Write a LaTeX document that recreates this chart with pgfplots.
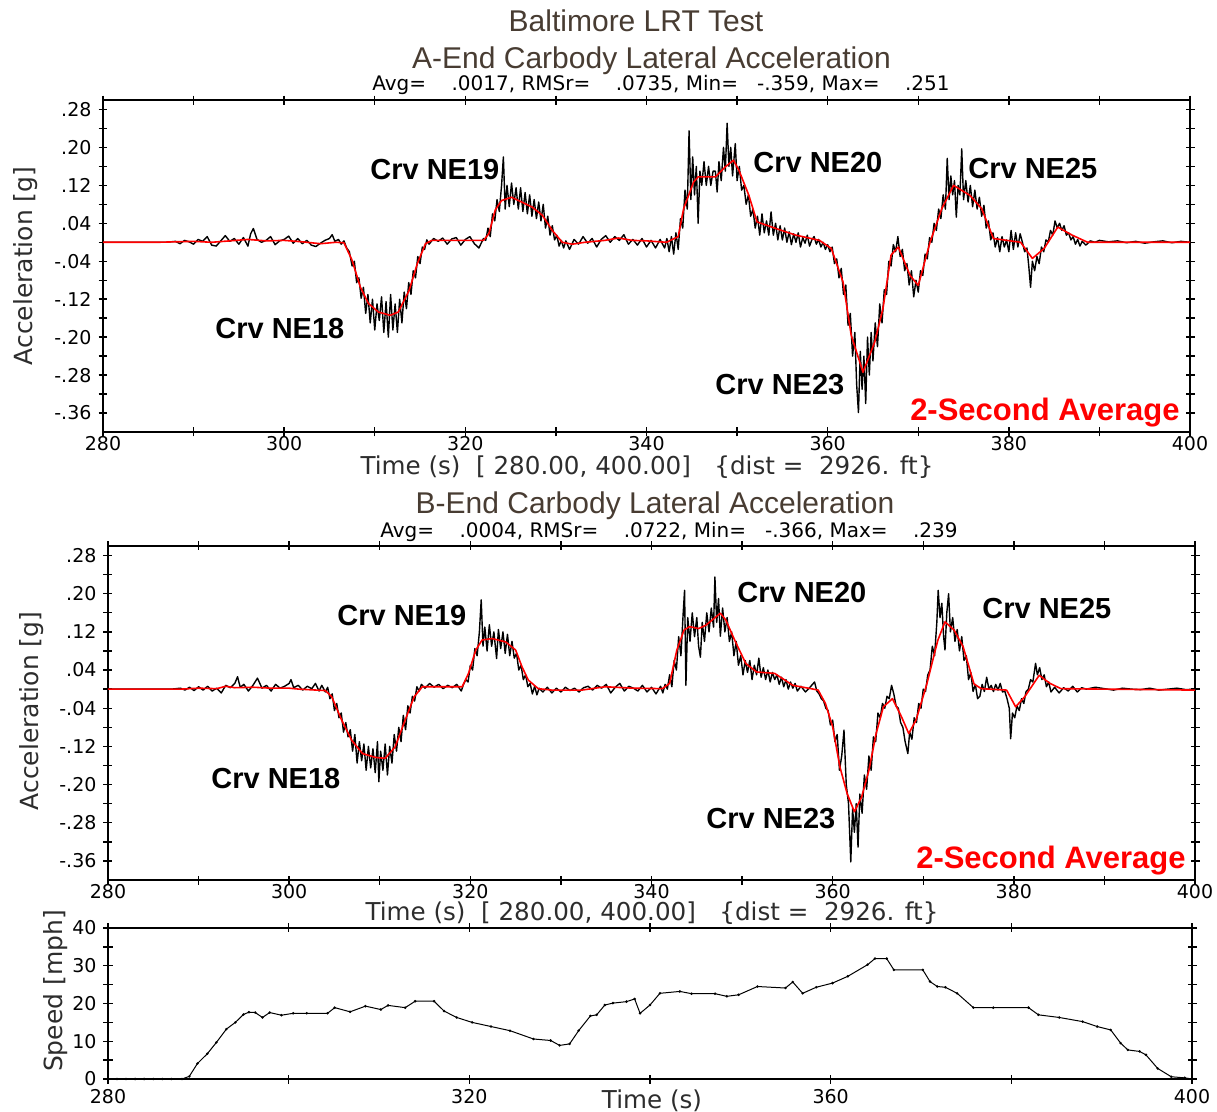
\documentclass[border=0pt]{standalone}
\usepackage{pgfplots}
\pgfplotsset{compat=1.18}
\usepackage{fontspec}
\setmainfont{Liberation Sans}
\newfontfamily\dejavu{DejaVu Sans}
\definecolor{titlecol}{RGB}{72,60,50}
\definecolor{labcol}{RGB}{45,45,45}
\begin{document}
\begin{tikzpicture}
\useasboundingbox (0,0) rectangle (608.5pt,-556pt);
\pgfplotsset{
 common/.style={
  scale only axis, anchor=south west,
  xmin=280,xmax=400,
  tick align=center, major tick length=4.5pt, minor tick length=4.5pt,
  tick style={black,line width=0.7pt},
  axis line style={line width=0.9pt},
  ticklabel style={font=\dejavu\fontsize{9.5}{10}\selectfont, text=black},
  xticklabel style={yshift=3.4pt},
  /pgf/number format/assume math mode=true,
 },
 accstyle/.style={
  common, width=543.5pt, height=166pt,
  ymin=-0.4,ymax=0.3,
  xtick={280,300,320,340,360,380,400},
  xticklabels={280,300,320,340,360,380,400},
  minor xtick={290,310,330,350,370,390},
  ytick={-0.36,-0.28,-0.20,-0.12,-0.04,0.04,0.12,0.20,0.28},
  yticklabels={-.36,-.28,-.20,-.12,-.04,.04,.12,.20,.28},
  minor ytick={-0.32,-0.24,-0.16,-0.08,0,0.08,0.16,0.24},
 },
 raw/.style={black, line width=0.7pt, line join=round},
 avg/.style={red, line width=0.8pt, line join=round},
}
% ---------------- Panel A ----------------
\begin{axis}[accstyle, at={(51.5pt,-216pt)}]
\addplot[raw] coordinates {
(280,0) (287,0) (288,0.002) (288.5,-0.003) (289,0.004) (289.5,0.001) (290,-0.004) (290.5,0.006) (291,0.002) (291.5,0.012) (292,-0.006) (292.5,-0.008) (293,0.003) (293.5,0.014) (294,0.002) (294.5,0.008) (295,-0.004) (295.5,0.010) (296,-0.008) (296.3,0.018) (296.6,0.029) (297,0.006) (297.5,0.000) (298,0.004) (298.5,0.012) (299,-0.005) (299.5,0.003) (300,0.006) (300.5,0.013) (301,-0.002) (301.5,0.008) (302,-0.003) (302.5,0.004) (303,-0.006) (303.5,-0.009) (304,-0.002) (304.5,0.004) (305,0.008) (305.3,0.016) (305.6,0.002) (306,0.006) (306.3,-0.004) (306.6,0.003) (306.9,-0.012) (307.2,-0.02)
(307.5,-0.05) (307.75,-0.04) (308,-0.085) (308.25,-0.075) (308.5,-0.118) (308.75,-0.095) (309,-0.15) (309.25,-0.11) (309.5,-0.17) (309.75,-0.12) (310,-0.185) (310.25,-0.13) (310.5,-0.165) (310.75,-0.115) (311,-0.19) (311.25,-0.125) (311.5,-0.2) (311.75,-0.11) (312,-0.185) (312.25,-0.13) (312.5,-0.19) (312.75,-0.12) (313,-0.17) (313.25,-0.105) (313.5,-0.14) (313.75,-0.085) (314,-0.11) (314.25,-0.06) (314.5,-0.075) (314.75,-0.03) (315,-0.045) (315.25,-0.01) (315.5,-0.015) (315.75,0.005) (316,-0.004)
(316.5,0.008) (317,0.002) (317.5,0.009) (318,-0.004) (318.5,0.007) (319,0.010) (319.5,-0.006) (320,0.006) (320.5,0.012) (321,-0.003) (321.5,-0.012) (322,0.008)
(322.25,0.004) (322.5,0.03) (322.75,0.012) (323,0.06) (323.25,0.045) (323.5,0.09) (323.75,0.065) (324,0.12) (324.2,0.18) (324.4,0.07) (324.6,0.12) (324.85,0.075) (325.1,0.125) (325.35,0.08) (325.6,0.115) (325.85,0.07) (326.1,0.115) (326.35,0.065) (326.6,0.105) (326.85,0.06) (327.1,0.1) (327.35,0.055) (327.6,0.09) (327.85,0.05) (328.1,0.085) (328.35,0.045) (328.6,0.08) (328.85,0.03) (329.1,0.055) (329.35,0.015) (329.6,0.035) (329.85,0.005) (330.1,0.015) (330.35,-0.008) (330.6,0.004) (330.85,-0.012) (331.1,0.003) (331.5,-0.015) (332,0.006) (332.5,-0.004) (333,0.012) (333.5,-0.002) (334,0.008) (334.5,-0.01) (335,0.006) (335.5,0.014) (336,0.000) (336.5,0.012) (337,0.004) (337.5,0.016) (338,-0.004) (338.5,0.006) (339,-0.006) (339.5,0.008) (340,-0.01) (340.5,0.004) (341,-0.012) (341.5,0.006)
(342,-0.012) (342.25,0.008) (342.5,-0.02) (342.75,0.012) (343,-0.025) (343.25,0.02) (343.5,-0.015) (343.75,0.05) (344,0.03) (344.25,0.11) (344.5,0.07) (344.7,0.235) (344.9,0.09) (345.1,0.18) (345.3,0.1) (345.5,0.16) (345.7,0.04) (345.9,0.15) (346.1,0.12) (346.35,0.17) (346.6,0.12) (346.85,0.16) (347.1,0.12) (347.35,0.15) (347.6,0.15) (347.8,0.106) (348,0.17) (348.25,0.13) (348.5,0.2) (348.7,0.15) (348.9,0.251) (349.1,0.16) (349.3,0.2) (349.5,0.14) (349.8,0.208) (350,0.13) (350.25,0.16) (350.5,0.11) (350.75,0.12) (351,0.08) (351.25,0.1) (351.5,0.055) (351.75,0.07) (352,0.03) (352.25,0.055) (352.5,0.015) (352.75,0.06) (353,0.02) (353.25,0.045) (353.5,0.015) (353.75,0.064) (354,0.015) (354.25,0.04) (354.5,0.005) (354.75,0.035) (355,0.005) (355.25,0.03) (355.5,0.0) (355.75,0.022) (356,-0.005) (356.25,0.018) (356.5,0.0) (356.75,0.02) (357,-0.01) (357.25,0.01) (357.5,-0.002) (357.75,0.015) (358,-0.008) (358.25,0.005) (358.5,0.012) (358.75,-0.004) (359,0.006) (359.25,-0.01) (359.5,0.0) (359.75,-0.015)
(360,-0.005) (360.25,-0.02) (360.5,-0.01) (360.75,-0.045) (361,-0.035) (361.25,-0.075) (361.5,-0.055) (361.75,-0.11) (362,-0.09) (362.25,-0.175) (362.5,-0.15) (362.75,-0.24) (363,-0.19) (363.2,-0.3) (363.4,-0.359) (363.6,-0.23) (363.8,-0.31) (364,-0.24) (364.2,-0.34) (364.4,-0.2) (364.6,-0.28) (364.8,-0.19) (365,-0.25) (365.25,-0.17) (365.5,-0.22) (365.75,-0.13) (366,-0.17)
(366.25,-0.1) (366.5,-0.11) (366.75,-0.04) (367,-0.05) (367.25,-0.005) (367.5,-0.02) (367.75,0.012) (368,-0.03) (368.25,-0.015) (368.5,-0.06) (368.75,-0.045) (369,-0.09) (369.25,-0.06) (369.5,-0.115) (369.75,-0.08) (370,-0.105) (370.25,-0.06) (370.5,-0.07) (370.75,-0.025) (371,-0.035) (371.25,0.01) (371.5,0.0) (371.75,0.04) (372,0.025) (372.25,0.07) (372.5,0.05) (372.75,0.1) (373,0.07) (373.2,0.177) (373.4,0.09) (373.6,0.14) (373.8,0.1) (374,0.13) (374.2,0.053) (374.4,0.12) (374.6,0.1) (374.8,0.197) (375,0.09) (375.25,0.13) (375.5,0.085) (375.75,0.12) (376,0.075) (376.25,0.11) (376.5,0.07) (376.75,0.095) (377,0.055) (377.25,0.078) (377.5,0.03) (377.75,0.045) (378,0.005) (378.25,0.02) (378.5,-0.01)
(378.75,0.01) (379,-0.02) (379.25,0.012) (379.5,-0.01) (379.75,0.005) (380,-0.02) (380.25,0.025) (380.5,-0.015) (380.75,0.02) (381,-0.01) (381.25,0.018) (381.5,0.0) (381.75,-0.02) (382,-0.012) (382.2,-0.05) (382.4,-0.095) (382.6,-0.04) (382.85,-0.06) (383.1,-0.03) (383.35,-0.045) (383.6,-0.01) (383.85,-0.02) (384.1,0.005) (384.35,0.0) (384.6,0.025) (384.85,0.015) (385.1,0.045) (385.35,0.03) (385.6,0.04) (385.85,0.025) (386.1,0.035) (386.35,0.015) (386.6,0.02) (386.85,0.005) (387.1,0.012) (387.35,-0.004) (387.6,0.006) (387.85,-0.008) (388.1,0.002) (388.5,-0.006) (389,0.003) (389.5,0.0) (390,0.004) (391,0.001) (392,0.003) (393,-0.001) (394,0.002) (395,-0.002) (396,0.001) (397,0.003) (398,-0.001) (399,0.002) (400,0)
};
\addplot[avg] coordinates {
(280,0) (286,0) (288,0.001) (290,0.002) (292,0.000) (294,0.003) (296,0.006) (298,0.003) (300,0.004) (302,0.001) (304,-0.003) (305.7,0.000) (306.6,-0.001) (307.5,-0.038) (308.4,-0.094) (309.3,-0.129) (310.4,-0.147) (311.7,-0.154) (312.6,-0.147) (313.8,-0.101) (314.7,-0.045) (315.6,-0.003) (316.3,0.004) (322.0,0.004) (322.6,0.018) (323.3,0.068) (324.0,0.088) (325.1,0.095) (326.2,0.085) (327.4,0.074) (328.5,0.057) (329.6,0.025) (330.7,0.000) (331.8,-0.004) (333.2,0.000) (335.4,0.004) (336.9,0.009) (338.4,0.004) (340,0.003) (342.2,0.000) (343.5,0.012) (344.1,0.071) (345.2,0.127) (345.7,0.138) (347.6,0.138) (348.7,0.159) (349.6,0.173) (350.2,0.152) (351.3,0.099) (352.2,0.043) (354.3,0.029) (356.5,0.015) (359.1,0.004) (360.4,-0.013) (361.7,-0.084) (362.6,-0.196) (363.9,-0.274) (365.2,-0.210) (366.1,-0.140) (367.0,-0.027) (367.8,-0.010) (369.1,-0.070) (370.0,-0.091) (371.3,0.000) (372.6,0.071) (373.9,0.120) (375.7,0.099) (377.0,0.071) (378.3,0.008) (381.3,0.000) (382.6,-0.034) (383.9,-0.013) (385.4,0.032) (387.0,0.015) (388.7,0.000) (400,0.000)
};
\end{axis}
% ---------------- Panel B ----------------
\begin{axis}[accstyle, at={(54pt,-440pt)}, height=167pt]
\addplot[raw] coordinates {
(280,0) (287,0) (288,0.002) (288.5,-0.002) (289,0.004) (289.5,-0.003) (290,0.005) (290.5,-0.002) (291,0.006) (291.5,-0.004) (292,0.002) (292.5,-0.008) (293,0.008) (293.5,0.003) (294,0.012) (294.3,0.026) (294.6,0.004) (295,0.010) (295.5,-0.004) (296,0.008) (296.5,0.023) (297,0.002) (297.5,0.008) (298,-0.004) (298.5,0.010) (299,0.002) (299.5,0.006) (300,0.012) (300.2,0.02) (300.5,0.003) (301,0.008) (301.5,-0.002) (302,0.006) (302.5,0.001) (302.9,0.012) (303.3,-0.004) (303.6,0.008) (304,-0.006) (304.25,0.004) (304.5,-0.02) (304.75,-0.01)
(305,-0.045) (305.25,-0.03) (305.5,-0.06) (305.75,-0.05) (306,-0.09) (306.25,-0.07) (306.5,-0.1) (306.75,-0.085) (307,-0.13) (307.25,-0.095) (307.5,-0.155) (307.75,-0.11) (308,-0.15) (308.25,-0.115) (308.5,-0.17) (308.75,-0.12) (309,-0.165) (309.25,-0.125) (309.5,-0.175) (309.75,-0.11) (309.9,-0.194) (310.1,-0.13) (310.35,-0.17) (310.6,-0.115) (310.85,-0.18) (311.1,-0.12) (311.35,-0.155) (311.6,-0.095) (311.85,-0.13) (312.1,-0.08) (312.35,-0.11) (312.6,-0.055) (312.85,-0.085) (313.1,-0.035) (313.35,-0.05) (313.6,-0.015) (313.85,-0.025) (314.1,0.005) (314.35,-0.004) (314.6,0.01)
(315,0.002) (315.5,0.012) (316,0.004) (316.5,0.01) (317,0.001) (317.5,0.008) (318,0.003) (318.5,0.01) (319,-0.004) (319.25,0.01) (319.5,0.02) (319.75,0.015) (320,0.05) (320.25,0.04) (320.5,0.085) (320.75,0.07) (321,0.12) (321.2,0.187) (321.4,0.09) (321.6,0.13) (321.85,0.08) (322.1,0.135) (322.35,0.09) (322.6,0.12) (322.9,0.064) (323.1,0.125) (323.35,0.085) (323.6,0.12) (323.85,0.075) (324.1,0.115) (324.35,0.07) (324.6,0.1) (324.85,0.065) (325.1,0.075) (325.35,0.04) (325.6,0.05) (325.85,0.02) (326.1,0.03) (326.35,0.005) (326.6,0.012) (326.85,-0.01) (327.1,0.006) (327.35,-0.012) (327.6,0.002)
(328,-0.006) (328.5,0.004) (329,-0.008) (329.5,0.002) (330,-0.006) (330.5,0.004) (331,-0.003) (331.5,0.002) (332,-0.006) (332.5,0.003) (333,0.006) (333.5,-0.002) (334,0.008) (334.5,0.002) (335,0.010) (335.5,-0.008) (336,0.004) (336.5,0.012) (337,-0.004) (337.5,0.006) (338,0.002) (338.5,-0.004) (339,0.008) (339.5,-0.006) (340,0.004) (340.5,-0.01) (341,0.006) (341.25,-0.008) (341.5,0.01) (341.75,0.0)
(342,0.03) (342.25,0.005) (342.5,0.06) (342.75,0.04) (343,0.11) (343.25,0.07) (343.5,0.16) (343.65,0.207) (343.8,0.008) (344,0.15) (344.25,0.1) (344.5,0.16) (344.75,0.11) (345,0.15) (345.2,0.09) (345.4,0.067) (345.6,0.14) (345.85,0.1) (346.1,0.16) (346.35,0.12) (346.6,0.17) (346.85,0.13) (347,0.235) (347.2,0.14) (347.4,0.19) (347.6,0.111) (347.85,0.17) (348.1,0.12) (348.35,0.15) (348.6,0.1) (348.85,0.12) (349.1,0.07) (349.35,0.1) (349.6,0.05) (349.85,0.07) (350.1,0.03) (350.35,0.06) (350.6,0.035) (350.85,0.06) (351.1,0.02) (351.35,0.05) (351.6,0.03) (351.85,0.065) (352.1,0.025) (352.35,0.045) (352.6,0.02) (352.85,0.04) (353.1,0.015) (353.35,0.035) (353.6,0.02) (353.85,0.03) (354.1,0.01) (354.35,0.025) (354.6,0.005) (354.85,0.02) (355.1,0.0) (355.35,0.015) (355.6,0.002) (355.85,0.012) (356.1,-0.004) (356.5,0.006) (357,-0.006) (357.5,0.004) (358,0.015) (358.25,-0.004) (358.5,-0.01) (358.75,-0.02)
(359,-0.025) (359.25,-0.04) (359.5,-0.045) (359.75,-0.075) (360,-0.065) (360.25,-0.11) (360.5,-0.095) (360.75,-0.17) (361,-0.14) (361.25,-0.086) (361.5,-0.2) (361.75,-0.24) (362,-0.362) (362.2,-0.25) (362.4,-0.3) (362.6,-0.24) (362.8,-0.331) (363,-0.22) (363.25,-0.26) (363.5,-0.18) (363.75,-0.21) (364,-0.14) (364.25,-0.17) (364.5,-0.1) (364.75,-0.11) (365,-0.05) (365.25,-0.06) (365.5,-0.03) (365.75,-0.04) (366,-0.015) (366.25,-0.02) (366.5,0.008) (366.75,-0.01)
(367,-0.035) (367.25,-0.04) (367.5,-0.07) (367.75,-0.08) (368,-0.11) (368.3,-0.135) (368.5,-0.09) (368.75,-0.105) (369,-0.06) (369.25,-0.07) (369.5,-0.03) (369.75,-0.04) (370,0.0) (370.25,-0.005) (370.5,0.03) (370.75,0.04) (371,0.09) (371.25,0.07) (371.5,0.14) (371.65,0.207) (371.85,0.15) (372.05,0.18) (372.25,0.11) (372.4,0.082) (372.6,0.16) (372.8,0.2) (373,0.12) (373.25,0.15) (373.5,0.1) (373.75,0.125) (374,0.08) (374.25,0.11) (374.5,0.06) (374.75,0.07) (375,0.02) (375.25,0.035) (375.5,-0.005) (375.75,0.01) (376,-0.02) (376.25,-0.015) (376.5,0.01) (376.75,-0.005) (377,0.025) (377.25,0.0) (377.5,0.008) (377.75,-0.005) (378,0.01) (378.25,-0.002) (378.5,0.012) (378.75,-0.006)
(379,-0.004) (379.25,-0.02) (379.5,-0.04) (379.65,-0.104) (379.85,-0.05) (380.1,-0.06) (380.35,-0.035) (380.6,-0.045) (380.85,-0.02) (381.1,-0.03) (381.35,-0.005) (381.6,0.0) (381.85,0.02) (382.1,0.015) (382.4,0.054) (382.6,0.03) (382.85,0.045) (383.1,0.02) (383.35,0.03) (383.6,0.005) (383.85,0.015) (384.1,-0.006) (384.5,0.004) (385,-0.008) (385.5,0.003) (386,-0.004) (386.5,0.006) (387,-0.006) (387.5,0.003) (388,0.000) (389,0.004) (390,0.001) (391,-0.002) (392,0.002) (393,0.000) (394,-0.001) (395,0.002) (396,-0.002) (397,0.000) (398,0.002) (399,-0.001) (400,0.000)
};
\addplot[avg] coordinates {
(280,0) (288,0) (290,0.002) (292,0.001) (293,0.006) (294,0.003) (296,0.004) (298,0.002) (300,0.002) (301.1,0.000) (304,-0.003) (304.7,-0.016) (305.8,-0.065) (306.9,-0.107) (308.1,-0.135) (309.5,-0.143) (310.6,-0.145) (311.7,-0.121) (312.8,-0.065) (313.8,-0.016) (314.7,0.005) (319.1,0.005) (319.8,0.033) (320.6,0.082) (321.3,0.103) (322.4,0.106) (323.9,0.099) (325.0,0.082) (325.7,0.047) (326.4,0.019) (327.5,0.001) (329,-0.002) (332.3,-0.002) (334.9,0.005) (338,0.002) (341.2,0.001) (342.0,0.012) (342.8,0.082) (343.6,0.124) (344.2,0.131) (345.2,0.127) (346.0,0.134) (347.6,0.159) (348.2,0.145) (349.2,0.102) (350.4,0.054) (351.6,0.036) (353.6,0.033) (355.6,0.008) (357.6,0.001) (358.4,-0.002) (359.2,-0.030) (360.0,-0.079) (360.8,-0.163) (361.6,-0.219) (362.4,-0.257) (363.2,-0.226) (364.0,-0.170) (364.8,-0.093) (365.6,-0.037) (366.6,-0.020) (367.6,-0.058) (368.4,-0.093) (369.2,-0.065) (370.4,0.011) (371.6,0.102) (372.4,0.141) (373.4,0.124) (374.4,0.089) (375.6,0.011) (376.4,0.001) (379.2,-0.002) (380.2,-0.037) (381.2,-0.016) (382.8,0.029) (384.0,0.012) (385.2,0.001) (400,-0.002)
};
\end{axis}
% ---------------- Speed ----------------
\begin{axis}[common, at={(54pt,-539.5pt)}, width=542pt, height=75.5pt,
  xticklabel style={yshift=-3.4pt, yshift=0.6pt},
  ymin=0, ymax=40,
  xtick={280,300,320,340,360,380,400}, xticklabels={280,,320,,360,,400},
  ytick={0,10,20,30,40}, yticklabels={0,10,20,30,40},
  minor ytick={5,15,25,35}]
\addplot[black, line width=0.5pt, mark=*, mark size=0.35pt] coordinates {
(280,0) (281,0) (282,0) (283,0) (284,0) (285,0) (286,0) (287,0) (288.2,0) (289,0.7) (289.9,4.1) (291,6.7) (292,9.7) (293.1,13.2) (294.1,15) (295,17.1) (295.6,17.7) (296.3,17.6) (297.1,16.3) (297.9,17.6) (299.2,16.9) (300.5,17.4) (302,17.4) (304.3,17.4) (305.1,18.9) (306.8,17.8) (308.5,19.3) (310.2,18.4) (311,19.5) (312.9,18.9) (314,20.6) (316.1,20.6) (317.2,18) (318.6,16.3) (320.3,15) (322.4,13.9) (324.5,12.8) (327.1,10.6) (329,10.2) (330,8.9) (331.1,9.3) (332.1,12.8) (333.4,16.7) (334.1,17) (335,19.6) (335.9,20.1) (337.4,20.5) (338.3,21.2) (338.9,17.4) (340,19.6) (341.1,22.7) (343.3,23.2) (344.6,22.6) (347.2,22.6) (348.5,21.9) (349.8,22.3) (351.9,24.5) (355,24.1) (355.8,25.7) (356.9,22.7) (358.4,24.3) (360.2,25.4) (361.9,27.2) (364.1,30.3) (364.9,31.9) (366.2,31.9) (367,28.9) (370.2,28.9) (371,25.8) (371.8,24.5) (372.7,24.3) (374,22.7) (375.8,18.9) (378,18.9) (381.9,18.9) (383,17) (385.3,16.3) (387.9,15.2) (389.5,13.9) (391,13) (392.1,9.5) (392.9,7.7) (394.2,7.3) (394.9,6.4) (396.2,2.8) (397.7,0.6) (399.2,0.3) (400,0)
};
\end{axis}
% ---------------- Texts ----------------
\begin{scope}[x=0.5pt,y=-0.5pt]
\tikzset{ttl/.style={inner sep=0pt, anchor=base, text=titlecol, font=\fontsize{15}{18}\selectfont},
         stat/.style={inner sep=0pt, anchor=base, text=black, font=\dejavu\fontsize{10}{11}\selectfont},
         xl/.style={inner sep=0pt, anchor=base, text=labcol, font=\dejavu\fontsize{12.3}{14}\selectfont},
         yl/.style={inner sep=0pt, anchor=center, rotate=90, text=labcol, font=\dejavu\fontsize{12.5}{14}\selectfont},
         crv/.style={inner sep=0pt, anchor=base west, text=black, font=\bfseries\fontsize{14.5}{16}\selectfont},
         twos/.style={inner sep=0pt, anchor=base east, text=red, font=\bfseries\fontsize{15.5}{18}\selectfont}}
\node[ttl] at (636,32) {Baltimore LRT Test};
\node[ttl] at (651.5,69) {A-End Carbody Lateral Acceleration};
\node[stat] at (661,91) {Avg=\ \ \ \ .0017, RMSr=\ \ \ \ .0735, Min=\ \ \ -.359, Max=\ \ \ \ .251};
\node[xl] at (647,475) {Time (s)\ \ [ 280.00, 400.00]\ \ \ \{dist =\ \ 2926. ft\}};
\node[ttl] at (655,514) {B-End Carbody Lateral Acceleration};
\node[stat] at (669,538) {Avg=\ \ \ \ .0004, RMSr=\ \ \ \ .0722, Min=\ \ \ -.366, Max=\ \ \ \ .239};
\node[xl] at (652,921) {Time (s)\ \ [ 280.00, 400.00]\ \ \ \{dist =\ \ 2926. ft\}};
\node[xl] at (652,1108) {Time (s)};
\node[yl] at (26,266) {Acceleration [g]};
\node[yl] at (32,711) {Acceleration [g]};
\node[yl] at (56,991) {Speed [mph]};
\node[crv] at (370,180) {Crv NE19};
\node[crv] at (753,173) {Crv NE20};
\node[crv] at (968,179) {Crv NE25};
\node[crv] at (215,339) {Crv NE18};
\node[crv] at (715,395) {Crv NE23};
\node[twos] at (1180,421) {2-Second Average};
\node[crv] at (337,626) {Crv NE19};
\node[crv] at (737,603) {Crv NE20};
\node[crv] at (982,619) {Crv NE25};
\node[crv] at (211,789) {Crv NE18};
\node[crv] at (706,828) {Crv NE23};
\node[twos] at (1186,868) {2-Second Average};
\end{scope}
\end{tikzpicture}
\end{document}
